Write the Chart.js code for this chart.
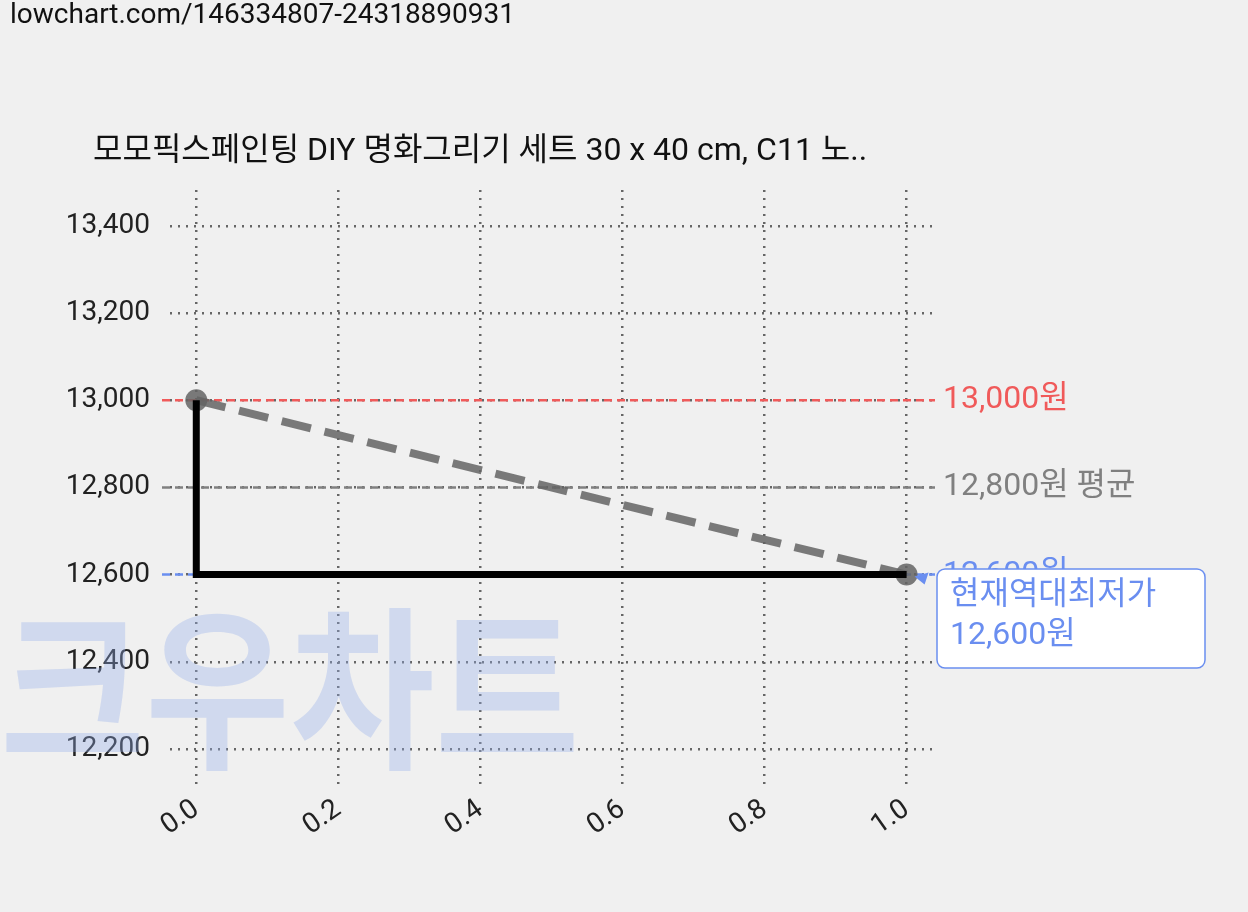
<!DOCTYPE html>
<html><head><meta charset="utf-8">
<script src="https://cdn.jsdelivr.net/npm/chart.js@4/dist/chart.umd.min.js"></script>
<style>html,body{margin:0;background:#f0f0f0}#wrap{width:1248px;height:912px}</style>
</head><body><div id="wrap"><canvas id="c"></canvas></div>
<script>
const xTicks = [0, 0.2, 0.4, 0.6, 0.8, 1.0];
const yTicks = [12200, 12400, 12600, 12800, 13000, 13200, 13400];
const priceX = [0, 1];
const prices = [13000, 12600];
const refLines = [
    {value: 13000, label: '13,000원', color: '#f05a5a'},
    {value: 12800, label: '12,800원 평균', color: '#808080'},
    {value: 12600, label: '12,600원', color: '#6a8ef0'}
];
const title = '모모픽스페인팅 DIY 명화그리기 세트 30 x 40 cm, C11 노..';
const urlText = 'lowchart.com/146334807-24318890931';
const font = 'Roboto, "Noto Sans CJK KR", sans-serif';

const overlay = {
    id: 'overlay',
    beforeDraw(chart) {
        const ctx = chart.ctx;
        ctx.save();
        ctx.fillStyle = '#111';
        ctx.font = '28px ' + font;
        ctx.textBaseline = 'middle';
        ctx.fillText(urlText, 10, 16);
        ctx.font = '32px ' + font;
        ctx.fillText(title, 93, 152);
        ctx.restore();
    },
    beforeDatasetsDraw(chart) {
        const ctx = chart.ctx, y = chart.scales.y, a = chart.chartArea;
        ctx.save();
        ctx.fillStyle = 'rgba(150,175,235,0.35)';
        ctx.font = 'bold 175px "Noto Sans CJK KR", sans-serif';
        ctx.textBaseline = 'middle';
        ctx.translate(0, 688);
        ctx.scale(0.9, 1);
        ctx.fillText('크우차트', 0, 0);
        ctx.restore();
        ctx.save();
        ctx.setLineDash([8, 5]);
        ctx.lineWidth = 2.5;
        ctx.font = '32px ' + font;
        ctx.textBaseline = 'middle';
        refLines.forEach(r => {
            const py = y.getPixelForValue(r.value);
            ctx.strokeStyle = r.color;
            ctx.beginPath(); ctx.moveTo(a.left - 8, py); ctx.lineTo(a.right, py); ctx.stroke();
            ctx.fillStyle = r.color;
            ctx.fillText(r.label, a.right + 8, py);
        });
        ctx.restore();
    },
    afterDraw(chart) {
        const ctx = chart.ctx;
        const px = chart.scales.x.getPixelForValue(1), py = chart.scales.y.getPixelForValue(12600);
        ctx.save();
        ctx.fillStyle = '#fff';
        ctx.strokeStyle = '#6a8ef0';
        ctx.lineWidth = 1.5;
        ctx.beginPath(); ctx.roundRect(937, 569, 268, 99, 8); ctx.fill(); ctx.stroke();
        ctx.beginPath(); ctx.moveTo(px + 8, py + 2); ctx.lineTo(px + 22, py - 2); ctx.lineTo(px + 18, py + 10); ctx.closePath();
        ctx.fillStyle = '#6a8ef0'; ctx.fill();
        ctx.font = '32px ' + font;
        ctx.textBaseline = 'middle';
        ctx.fillText('현재역대최저가', 950, 596);
        ctx.fillText('12,600원', 950, 636);
        ctx.restore();
    }
};

new Chart(document.getElementById('c'), {
    type: 'scatter',
    data: {
        datasets: [{
            data: priceX.map((x, i) => ({x: x, y: prices[i]})),
            showLine: true,
            borderColor: 'rgba(100,100,100,0.85)',
            borderWidth: 8,
            borderDash: [30, 14],
            pointRadius: 11,
            pointBackgroundColor: 'rgba(100,100,100,0.85)',
            pointBorderWidth: 0,
            order: 2
        }, {
            data: [{x: priceX[0], y: prices[0]}, {x: priceX[0], y: prices[1]}, {x: priceX[1], y: prices[1]}],
            showLine: true,
            borderColor: '#000',
            borderWidth: 7,
            pointRadius: 0,
            order: 1
        }]
    },
    options: {
        responsive: true,
        maintainAspectRatio: false,
        animation: false,
        layout: {padding: {top: 190, right: 313, bottom: 0, left: 0}},
        plugins: {legend: {display: false}, tooltip: {enabled: false}},
        scales: {
            x: {
                type: 'linear', min: -0.037, max: 1.04,
                afterBuildTicks: s => { s.ticks = xTicks.map(v => ({value: v})); },
                afterFit: s => { s.height = 122; },
                ticks: {color: '#222', font: {size: 28, family: font}, maxRotation: 35, minRotation: 35,
                    callback: v => v.toFixed(1)},
                grid: {color: '#666', lineWidth: 2.5, drawTicks: false},
                border: {display: false, dash: [2, 6]}
            },
            y: {
                min: 12106, max: 13482,
                afterBuildTicks: s => { s.ticks = yTicks.map(v => ({value: v})); },
                afterFit: s => { s.width = 170; },
                ticks: {color: '#222', font: {size: 28, family: font}, padding: 20,
                    callback: v => v.toLocaleString('en-US')},
                grid: {color: '#666', lineWidth: 2.5, drawTicks: false},
                border: {display: false, dash: [2, 6]}
            }
        }
    },
    plugins: [overlay]
});
</script></body></html>
